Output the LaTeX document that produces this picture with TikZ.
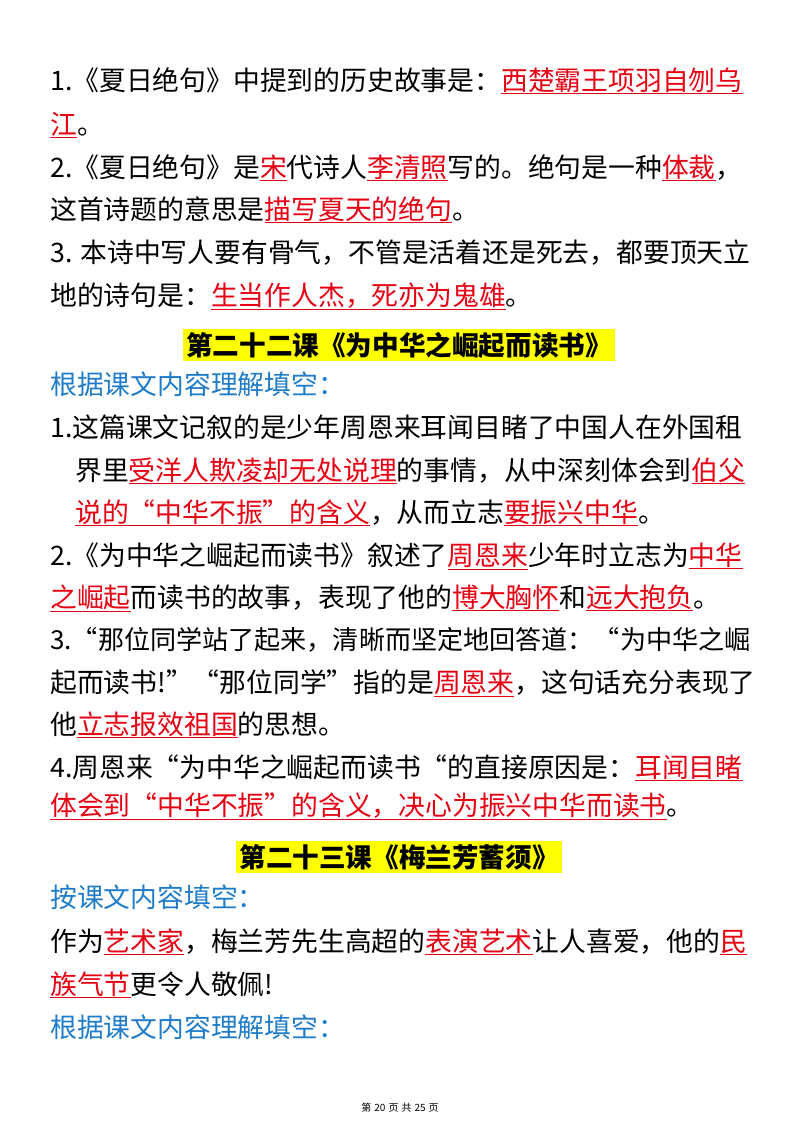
\documentclass[tikz,border=0pt]{standalone}
\usepackage{fontspec}
\setmainfont{Noto Sans CJK SC}
\definecolor{ansred}{HTML}{E60012}
\definecolor{hblue}{HTML}{1F7CC8}
\definecolor{hyel}{HTML}{FFFF00}
\newcommand{\ans}[1]{\textcolor{ansred}{\underline{#1}}}
\tikzset{ln/.style={anchor=base west,inner sep=0pt,font=\fontsize{26.8}{27}\selectfont},
 hd/.style={fill=hyel,inner sep=3pt,font=\fontsize{26.6}{27}\selectfont\bfseries},
 bl/.style={ln,text=hblue}}
\begin{document}
\begin{tikzpicture}[x=1pt,y=-1pt]
\useasboundingbox (0,0) rectangle (800,1132);
\fill[white] (0,0) rectangle (800,1132);
\node[ln] (l1) at (50,90) {1.《夏日绝句》中提到的历史故事是：\ans{西楚霸王项羽自刎乌}};
\node[ln] (l2) at (50,134) {\ans{江}。};
\node[ln] (l3) at (50,177) {2.《夏日绝句》是\ans{宋}代诗人\ans{李清照}写的。绝句是一种\ans{体裁}，};
\node[ln] (l4) at (50,219) {这首诗题的意思是\ans{描写夏天的绝句}。};
\node[ln] (l5) at (50,262) {3. 本诗中写人要有骨气，不管是活着还是死去，都要顶天立};
\node[ln] (l6) at (50,305) {地的诗句是：\ans{生当作人杰，死亦为鬼雄}。};
\node[hd] (h1) at (399,345) {第二十二课《为中华之崛起而读书》};
\node[bl] (b1) at (50,394) {根据课文内容理解填空：};
\node[ln] (l7) at (50,437) {1.这篇课文记叙的是少年周恩来耳闻目睹了中国人在外国租};
\node[ln] (l8) at (75,480) {界里\ans{受洋人欺凌却无处说理}的事情，从中深刻体会到\ans{伯父}};
\node[ln] (l9) at (75,522) {\ans{说的“中华不振”的含义}，从而立志\ans{要振兴中华}。};
\node[ln] (l10) at (50,565) {2.《为中华之崛起而读书》叙述了\ans{周恩来}少年时立志为\ans{中华}};
\node[ln] (l11) at (50,607) {\ans{之崛起}而读书的故事，表现了他的\ans{博大胸怀}和\ans{远大抱负}。};
\node[ln,font=\fontsize{26.1}{27}\selectfont] (l12) at (50,649) {3.“那位同学站了起来，清晰而坚定地回答道：“为中华之崛};
\node[ln] (l13) at (50,692) {起而读书!”“那位同学”指的是\ans{周恩来}，这句话充分表现了};
\node[ln] (l14) at (50,734) {他\ans{立志报效祖国}的思想。};
\node[ln] (l15) at (50,777) {4.周恩来“为中华之崛起而读书“的直接原因是：\ans{耳闻目睹}};
\node[ln] (l16) at (50,815) {\ans{体会到“中华不振”的含义，决心为振兴中华而读书}。};
\node[hd] (h2) at (399,857) {第二十三课《梅兰芳蓄须》};
\node[bl] (b2) at (50,907) {按课文内容填空：};
\node[ln] (l17) at (50,951) {作为\ans{艺术家}，梅兰芳先生高超的\ans{表演艺术}让人喜爱，他的\ans{民}};
\node[ln] (l18) at (50,994) {\ans{族气节}更令人敬佩!};
\node[bl] (b3) at (50,1037) {根据课文内容理解填空：};
\node[font=\fontsize{10}{10}\selectfont] (ft) at (400,1108) {第\hspace{3pt}20\hspace{3pt}页\hspace{3pt}共\hspace{3pt}25\hspace{3pt}页};
\end{tikzpicture}
\end{document}
